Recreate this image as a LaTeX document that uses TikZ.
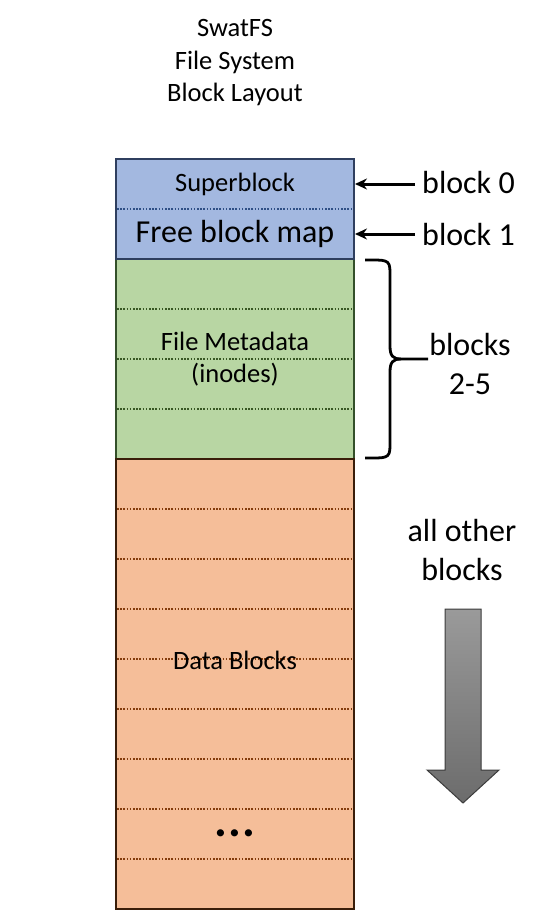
\documentclass[tikz,border=0pt]{standalone}
\usepackage{fontspec}
\setmainfont{Carlito}
\usetikzlibrary{arrows.meta,calc}
\definecolor{supfill}{HTML}{A3B8E0}
\definecolor{supline}{HTML}{2F3F5F}
\definecolor{supdot}{HTML}{2F4F85}
\definecolor{metafill}{HTML}{B8D6A3}
\definecolor{metaline}{HTML}{34502A}
\definecolor{metadot}{HTML}{385723}
\definecolor{datafill}{HTML}{F5BE99}
\definecolor{dataline}{HTML}{3A1E0A}
\definecolor{datadot}{HTML}{843C0C}
\definecolor{arrtop}{HTML}{9A9A9A}
\definecolor{arrbot}{HTML}{6C6C6C}
\definecolor{arrline}{HTML}{3C3C3C}
\tikzset{
  section/.style={line width=1.5pt, minimum width=238pt, inner sep=0pt, outer sep=0pt, anchor=north west, align=center},
  small/.style={font=\fontsize{26.5}{32.5}\selectfont, inner sep=0pt, align=center},
  large/.style={font=\fontsize{32}{39}\selectfont, inner sep=0pt, align=center},
  sep/.style={line width=1.4pt, dash pattern=on 1.6pt off 1.6pt},
  pointer/.style={line width=3pt, -{Stealth[length=12pt,width=11pt]}},
  bracepath/.style={line width=2.8pt},
}
\begin{document}
\begin{tikzpicture}[x=1pt,y=-1pt]
\useasboundingbox (0,0) rectangle (547,910);
% title
\node[small] (title) at (235,63) {SwatFS\\File System\\Block Layout};
% sections
\node[section, fill=supfill, minimum height=50pt, small] (super) at (116,159) {Superblock};
\node[section, fill=supfill, minimum height=50pt, large] (free) at (116,209) {Free block map};
\node[section, fill=metafill, draw=metaline, minimum height=200pt] (meta) at (116,259) {};
\node[section, fill=datafill, draw=dataline, minimum height=450pt] (data) at (116,459) {};
% top section border
\draw[supline, line width=1.5pt] (super.north west) rectangle (free.south east);
% separators
\draw[sep, supdot] ($(super.south west)+(1,0)$) -- ($(super.south east)+(-1,0)$);
\foreach \i in {1,2,3} {
  \draw[sep, metadot] ($(meta.north west)+(1,50*\i)$) -- ($(meta.north east)+(-1,50*\i)$);
}
\foreach \i in {1,...,8} {
  \draw[sep, datadot] ($(data.north west)+(1,50*\i)$) -- ($(data.north east)+(-1,50*\i)$);
}
% section texts
\node[small] (metatext) at (meta.center) {File Metadata\\(inodes)};
\node[small] (datatext) at (235,660) {Data Blocks};
\node[font=\fontsize{48}{50}\selectfont\bfseries, inner sep=0pt] (dots) at (235,833) {.\kern1pt.\kern1pt.};
% block 0 / block 1
\node[large, anchor=west] (lbl0) at (422,182) {block 0};
\node[large, anchor=west] (lbl1) at (422,234) {block 1};
\draw[pointer] ([xshift=-7pt]lbl0.west |- super.east) -- ([xshift=1pt]super.east);
\draw[pointer] ([xshift=-7pt]lbl1.west |- free.east) -- ([xshift=1pt]free.east);
% brace
\coordinate (btop) at (365,260);
\coordinate (bbot) at (365,458);
\coordinate (btip) at (428,359);
\draw[bracepath] (btop) .. controls (386,260) and (390,259) .. (390,272) -- (390,346) .. controls (390,356) and (393,359) .. (401,359) -- (btip);
\draw[bracepath] (bbot) .. controls (386,458) and (390,459) .. (390,446) -- (390,372) .. controls (390,362) and (393,359) .. (401,359);
\node[large] (lbl25) at (470,364) {blocks\\2-5};
% all other blocks
\node[large] (lblother) at (462,550) {all other\\blocks};
\shade[top color=arrtop, bottom color=arrbot, draw=arrline, line width=1pt]
  (445,609) -- (481,609) -- (481,770) -- (499,770) -- (463,803) -- (427,770) -- (445,770) -- cycle;
\end{tikzpicture}
\end{document}
